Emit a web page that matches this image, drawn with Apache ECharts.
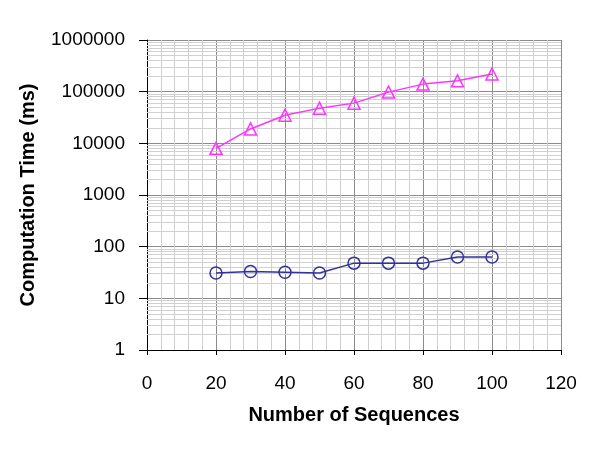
<!DOCTYPE html>
<html>
<head>
<meta charset="utf-8">
<script src="https://cdn.jsdelivr.net/npm/echarts@6/dist/echarts.min.js"></script>
<style>
  html, body { margin: 0; padding: 0; background: #fff; }
  #chart { width: 600px; height: 453px; }
</style>
</head>
<body>
<div id="chart"></div>
<script>
const sequences = [20, 30, 40, 50, 60, 70, 80, 90, 100]
const timeTriangle = [8000, 19000, 35000, 48000, 60000, 98000, 140000, 162000, 220000]
const timeCircle = [31, 33, 32, 31, 48, 48, 48, 63, 63]

// light minor gridlines at 2..9 of every decade
const minorLines = []
for (let d = 1; d < 1000000; d *= 10) {
    for (let k = 2; k <= 9; k++) minorLines.push({ yAxis: k * d })
}

const chartDom = document.querySelector('#chart')
let myChart = echarts.init(chartDom)
let option = {
    animation: false,
    grid: { left: 147, right: 39, top: 40, bottom: 103 },
    textStyle: { fontFamily: 'Liberation Sans, Arial, sans-serif' },
    xAxis: {
        type: 'value',
        min: 0,
        max: 120,
        interval: 20,
        name: 'Number of Sequences',
        nameLocation: 'middle',
        nameGap: 55,
        nameTextStyle: { fontSize: 20, fontWeight: 'bold', color: '#000' },
        axisLine: { show: true, lineStyle: { color: '#000', width: 1 } },
        axisTick: { show: true, length: 5, inside: false, lineStyle: { color: '#000' } },
        axisLabel: { fontSize: 19, color: '#000', margin: 24 },
        splitLine: { show: true, lineStyle: { color: '#8c8c8c', width: 1 } },
        minorTick: { show: false, splitNumber: 5 },
        minorSplitLine: { show: true, lineStyle: { color: '#cfcfcf', width: 1 } },
    },
    yAxis: {
        type: 'log',
        logBase: 10,
        min: 1,
        max: 1000000,
        name: 'Computation Time (ms)',
        nameLocation: 'middle',
        nameGap: 109,
        nameTextStyle: { fontSize: 20, fontWeight: 'bold', color: '#000' },
        axisLine: { show: true, lineStyle: { color: '#000', width: 1 } },
        axisTick: { show: true, length: 8, lineStyle: { color: '#000' } },
        axisLabel: { fontSize: 19, color: '#000', margin: 22, formatter: (v) => String(Math.round(v)) },
        splitLine: { show: true, lineStyle: { color: '#8c8c8c', width: 1 } },
    },
    series: [
        {
            name: 'grid',
            type: 'line',
            data: [],
            silent: true,
            z: 1,
            markLine: {
                silent: true,
                z: 1,
                symbol: ['none', 'none'],
                label: { show: false },
                lineStyle: { color: '#d0d0d0', type: 'solid', width: 1 },
                data: minorLines,
                animation: false,
            },
        },
        {
            name: 'triangle',
            type: 'line',
            data: sequences.map((x, i) => [x, timeTriangle[i]]),
            symbol: 'triangle',
            symbolSize: 12,
            showAllSymbol: true,
            itemStyle: { color: 'rgba(255,255,255,0)', borderColor: '#ff33ff', borderWidth: 1.5 },
            lineStyle: { color: '#ff33ff', width: 1.5 },
            z: 6,
        },
        {
            name: 'circle',
            type: 'line',
            data: sequences.map((x, i) => [x, timeCircle[i]]),
            symbol: 'circle',
            symbolSize: 12,
            showAllSymbol: true,
            itemStyle: { color: 'rgba(255,255,255,0)', borderColor: '#333399', borderWidth: 1.5 },
            lineStyle: { color: '#333399', width: 1.5 },
            z: 6,
        },
    ],
}
myChart.setOption(option)
</script>
</body>
</html>
